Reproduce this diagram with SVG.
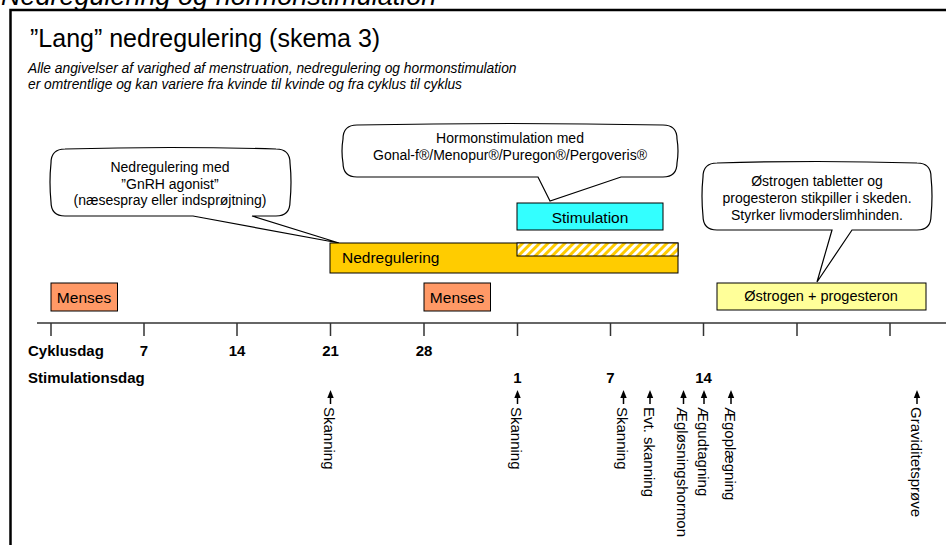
<svg xmlns="http://www.w3.org/2000/svg" width="946" height="545" viewBox="0 0 946 545">
<style>
text{font-family:"Liberation Sans",Arial,sans-serif;fill:#000}
.c{text-anchor:middle}
.b{font-weight:bold;font-size:15px}
.co{font-size:14px}
.bar{stroke:#000;stroke-width:1}
.call{fill:#fff;stroke:#000;stroke-width:1.2}
.rot{font-size:15px}
.tick{stroke:#333;stroke-width:1.5}
.arr{stroke:#000;stroke-width:1.5}
</style>
<defs>
<pattern id="hatch" width="6" height="6" patternUnits="userSpaceOnUse" patternTransform="rotate(45)">
<rect width="6" height="6" fill="#fff"/>
<rect width="3" height="6" fill="#FFCC00"/>
</pattern>
<path id="ah" d="M0,0 L-3.2,8 L3.2,8 Z" fill="#000"/>
</defs>
<rect width="946" height="545" fill="#fff"/>
<text x="1" y="5" style="font-size:27px;font-style:italic">Nedregulering og hormonstimulation</text>
<path d="M10.5,560 V10 H960" fill="none" stroke="#000" stroke-width="2.5"/>
<text x="30" y="47" style="font-size:25px">”Lang” nedregulering (skema 3)</text>
<text x="28" y="73" style="font-size:13.8px;font-style:italic">Alle angivelser af varighed af menstruation, nedregulering og hormonstimulation</text>
<text x="28" y="89" style="font-size:13.8px;font-style:italic">er omtrentlige og kan variere fra kvinde til kvinde og fra cyklus til cyklus</text>

<g id="callout-nedregulering">
<path class="call" d="M65,149 Q170,146 276,149 Q290,149 290,163 Q292,182 290,202 Q290,216 276,216 H252 L339,243 L193,216 H65 Q51,216 51,202 Q49,182 51,163 Q51,149 65,149 Z"/>
<text class="c co" x="170" y="172">Nedregulering med</text>
<text class="c co" x="170" y="188.5">”GnRH agonist”</text>
<text class="c co" x="170" y="205">(næsespray eller indsprøjtning)</text>
</g>
<g id="callout-hormon">
<path class="call" d="M357,125 Q510,122 663,125 Q677,125 677,139 Q679,151 677,163 Q677,177 663,177 H621 L550,201 L538,177 H357 Q343,177 343,163 Q341,151 343,139 Q343,125 357,125 Z"/>
<text class="c co" x="510" y="143">Hormonstimulation med</text>
<text class="c co" x="510" y="160">Gonal-f®/Menopur®/Puregon®/Pergoveris®</text>
</g>
<g id="callout-oestrogen">
<path class="call" d="M717,163 Q817,160 917,163 Q931,163 931,177 Q933,196 931,216 Q931,230 917,230 H852 L817,282 L832,230 H717 Q703,230 703,216 Q701,196 703,177 Q703,163 717,163 Z"/>
<text class="c co" x="817" y="186">Østrogen tabletter og</text>
<text class="c co" x="817" y="203">progesteron stikpiller i skeden.</text>
<text class="c co" x="817" y="220">Styrker livmoderslimhinden.</text>
</g>

<g id="bar-stimulation">
<rect class="bar" x="517" y="203" width="146" height="27" fill="#33FFFF"/>
<text class="c" x="590" y="223" style="font-size:15.5px">Stimulation</text>
</g>
<g id="bar-nedregulering">
<rect class="bar" x="330" y="243" width="348" height="30" fill="#FFCC00"/>
<rect class="bar" x="517" y="243" width="161" height="13" fill="url(#hatch)"/>
<text x="342" y="263" style="font-size:15.5px">Nedregulering</text>
</g>
<g id="bar-menses-1">
<rect class="bar" x="51" y="283" width="66.5" height="28" fill="#FF9966"/>
<text class="c" x="84" y="303" style="font-size:15.5px">Menses</text>
</g>
<g id="bar-menses-2">
<rect class="bar" x="424" y="283" width="66.5" height="28" fill="#FF9966"/>
<text class="c" x="457" y="303" style="font-size:15.5px">Menses</text>
</g>
<g id="bar-oestrogen">
<rect class="bar" x="717" y="283" width="209" height="27" fill="#FFFF99"/>
<text class="c" x="821" y="301" style="font-size:14.5px">Østrogen + progesteron</text>
</g>

<g id="axis">
<line class="tick" x1="37" y1="323" x2="946" y2="323"/>
<line class="tick" x1="51" y1="323" x2="51" y2="336"/>
<line class="tick" x1="144" y1="323" x2="144" y2="336"/>
<line class="tick" x1="237" y1="323" x2="237" y2="336"/>
<line class="tick" x1="330.5" y1="323" x2="330.5" y2="336"/>
<line class="tick" x1="424" y1="323" x2="424" y2="336"/>
<line class="tick" x1="517.5" y1="323" x2="517.5" y2="336"/>
<line class="tick" x1="610.5" y1="323" x2="610.5" y2="336"/>
<line class="tick" x1="703.5" y1="323" x2="703.5" y2="336"/>
<line class="tick" x1="797" y1="323" x2="797" y2="336"/>
<line class="tick" x1="890" y1="323" x2="890" y2="336"/>
<text class="b" x="28" y="356">Cyklusdag</text>
<text class="b c" x="144" y="356">7</text>
<text class="b c" x="237" y="356">14</text>
<text class="b c" x="330.5" y="356">21</text>
<text class="b c" x="424" y="356">28</text>
<text class="b" x="28" y="383">Stimulationsdag</text>
<text class="b c" x="517.5" y="383">1</text>
<text class="b c" x="610.5" y="383">7</text>
<text class="b c" x="703.5" y="383">14</text>
</g>

<g id="events">
<g id="ev-skanning-1"><use href="#ah" x="330.5" y="390"/><line class="arr" x1="330.5" y1="396" x2="330.5" y2="404"/><text class="rot" transform="translate(324,407) rotate(90)">Skanning</text></g>
<g id="ev-skanning-2"><use href="#ah" x="517.5" y="390"/><line class="arr" x1="517.5" y1="396" x2="517.5" y2="404"/><text class="rot" transform="translate(511,407) rotate(90)">Skanning</text></g>
<g id="ev-skanning-3"><use href="#ah" x="623.5" y="390"/><line class="arr" x1="623.5" y1="396" x2="623.5" y2="404"/><text class="rot" transform="translate(617,407) rotate(90)">Skanning</text></g>
<g id="ev-evt-skanning"><use href="#ah" x="650" y="390"/><line class="arr" x1="650" y1="396" x2="650" y2="404"/><text class="rot" transform="translate(643.5,407) rotate(90)">Evt. skanning</text></g>
<g id="ev-aegloesning"><use href="#ah" x="683.5" y="390"/><line class="arr" x1="683.5" y1="396" x2="683.5" y2="404"/><text class="rot" transform="translate(677,407) rotate(90)">Ægløsningshormon</text></g>
<g id="ev-aegudtagning"><use href="#ah" x="704" y="390"/><line class="arr" x1="704" y1="396" x2="704" y2="404"/><text class="rot" transform="translate(697.5,407) rotate(90)">Ægudtagning</text></g>
<g id="ev-aegoplaegning"><use href="#ah" x="731" y="390"/><line class="arr" x1="731" y1="396" x2="731" y2="404"/><text class="rot" transform="translate(724.5,407) rotate(90)">Ægoplægning</text></g>
<g id="ev-graviditet"><use href="#ah" x="917" y="390"/><line class="arr" x1="917" y1="396" x2="917" y2="404"/><text class="rot" transform="translate(910.5,407) rotate(90)">Graviditetsprøve</text></g>
</g>
</svg>
